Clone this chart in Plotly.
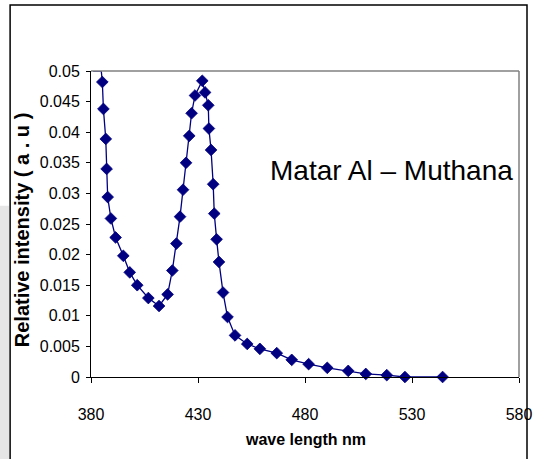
import plotly.graph_objects as go

# wavelength (nm) and relative intensity (a.u.)
wavelength = [381.0, 384.8, 385.3, 385.8, 386.9, 387.3, 387.8, 389.3, 391.5, 395.1,
              398.1, 401.6, 406.8, 411.8, 415.8, 418.0, 419.9, 421.6, 423.0, 424.4,
              425.9, 427.0, 428.6, 432.0, 433.3, 434.8, 435.1, 436.1, 437.1, 437.6,
              438.7, 439.8, 441.7, 443.8, 447.3, 453.0, 458.9, 466.8, 473.8, 481.7,
              490.4, 500.2, 508.4, 518.2, 526.7, 544.3]
intensity = [0.0500, 0.0500, 0.0482, 0.0438, 0.0389, 0.0340, 0.0294, 0.0259, 0.0228, 0.0198,
             0.0171, 0.0150, 0.0129, 0.0116, 0.0135, 0.0174, 0.0218, 0.0262, 0.0306, 0.0350,
             0.0394, 0.0431, 0.0460, 0.0484, 0.0465, 0.0444, 0.0406, 0.0371, 0.0315, 0.0267,
             0.0225, 0.0188, 0.0138, 0.0098, 0.0068, 0.0054, 0.0046, 0.0039, 0.0028, 0.0021,
             0.0015, 0.0010, 0.0005, 0.0003, 0.0000, 0.0000]
# first two readings lie above the axis maximum (clipped at the top), drawn without markers
clipped = [True, True] + [False] * (len(wavelength) - 2)

x_ticks = [380, 430, 480, 530, 580]
y_ticks = [0, 0.005, 0.01, 0.015, 0.02, 0.025, 0.03, 0.035, 0.04, 0.045, 0.05]
y_tick_text = ["0", "0.005", "0.01", "0.015", "0.02", "0.025", "0.03", "0.035", "0.04", "0.045", "0.05"]

label_text = "Matar Al – Muthana"
x_title = "wave length nm"
y_title = "Relative intensity ( a . u )"

FONT = "Liberation Sans, Arial, sans-serif"
NAVY = "#000080"

fig = go.Figure()
fig.add_trace(go.Scatter(
    x=wavelength, y=intensity, mode="lines+markers",
    line=dict(color=NAVY, width=1.3),
    marker=dict(symbol="diamond", color=NAVY, opacity=1,
                size=[0 if c else 9 for c in clipped],
                line=dict(color=NAVY, width=0.8)),
    opacity=1, cliponaxis=False, showlegend=False,
))

fig.update_layout(
    width=535, height=459,
    margin=dict(l=91, r=16, t=71, b=82),
    paper_bgcolor="white", plot_bgcolor="white",
    font=dict(family=FONT, color="black"),
    xaxis=dict(range=[380, 580], tickvals=x_ticks, ticktext=[str(v) for v in x_ticks],
               showgrid=False, zeroline=False, showline=True, linecolor="black", linewidth=1,
               ticks="outside", ticklen=5, tickcolor="black", ticklabelstandoff=18,
               tickfont=dict(size=16, family=FONT), automargin=False),
    yaxis=dict(range=[0, 0.05], tickvals=y_ticks, ticktext=y_tick_text,
               showgrid=False, zeroline=False, showline=True, linecolor="black", linewidth=1,
               ticks="outside", ticklen=4, tickcolor="black", ticklabelstandoff=3,
               tickfont=dict(size=16, family=FONT), automargin=False),
    annotations=[
        dict(text=label_text, x=0.703, y=0.676, xref="paper", yref="paper",
             showarrow=False, font=dict(size=28, family=FONT, color="black"),
             xanchor="center", yanchor="middle"),
        dict(text="<b>" + x_title + "</b>", x=0.50, y=-0.205, xref="paper", yref="paper",
             showarrow=False, font=dict(size=16, family=FONT, color="black"),
             xanchor="center", yanchor="middle"),
        dict(text="<b>" + y_title + "</b>", x=-0.161, y=0.48, xref="paper", yref="paper",
             showarrow=False, textangle=-90, font=dict(size=20, family=FONT, color="black"),
             xanchor="center", yanchor="middle"),
    ],
    shapes=[
        # page background strip at the far left
        dict(type="rect", xref="paper", yref="paper", x0=-0.2126, x1=-0.1916, y0=-0.27, y1=0.56,
             line=dict(width=0), fillcolor="#e6e6e6", layer="below"),
        # gray top/right plot border
        dict(type="line", xref="paper", yref="paper", x0=0, x1=1, y0=1, y1=1,
             line=dict(color="#808080", width=1.5)),
        dict(type="line", xref="paper", yref="paper", x0=1, x1=1, y0=0, y1=1,
             line=dict(color="#808080", width=1.5)),
        # outer chart frame
        dict(type="rect", xref="paper", yref="paper", x0=-0.189, x1=1.0187, y0=-0.30, y1=1.2157,
             line=dict(color="black", width=1.5), layer="below"),
    ],
)

fig.write_html("out.html")
